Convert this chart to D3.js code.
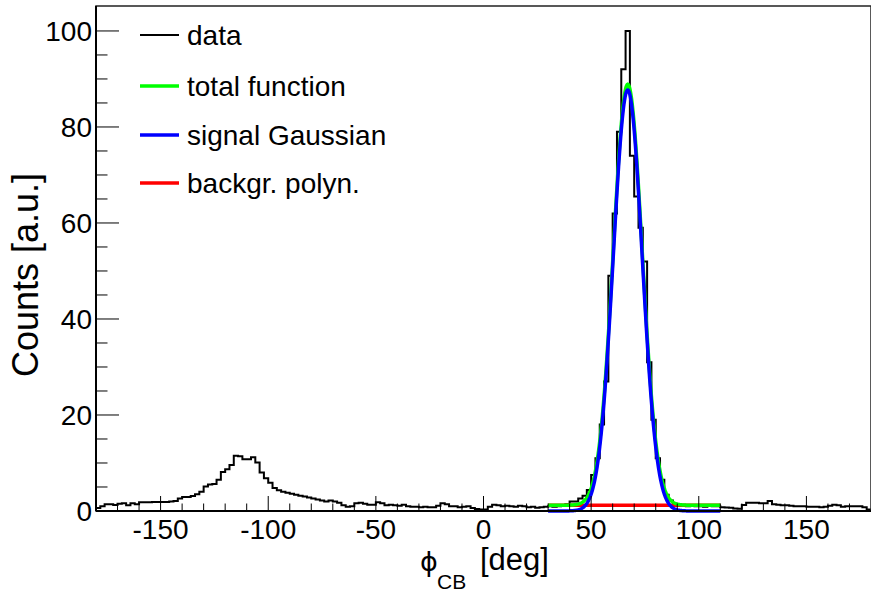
<!DOCTYPE html>
<html>
<head>
<meta charset="utf-8">
<script src="https://cdn.jsdelivr.net/npm/d3@7"></script>
<style>
  body { margin: 0; background: #fff; }
  text { font-family: "Liberation Sans", Arial, sans-serif; fill: #000; }
</style>
</head>
<body>
<svg id="fig" width="871" height="594"></svg>
<script>
// histogram: 180 bins of 2 deg from -180 to 180
var xLow = -180, xHigh = 180, binWidth = 2;
var counts = [
  0.6, 1.0, 1.4, 1.4, 1.25, 1.5, 1.6, 1.2, 1.6, 1.4,
  1.8, 1.8, 1.8, 1.9, 1.9, 1.9, 1.9, 2.0, 2.1, 2.6,
  2.9, 2.9, 3.1, 3.5, 4.0, 5.1, 5.5, 5.6, 6.5, 8.1,
  8.7, 9.6, 11.5, 11.4, 10.8, 10.8, 11.2, 10.1, 8.0, 6.8,
  5.9, 4.8, 4.3, 4.0, 3.8, 3.6, 3.4, 3.2, 3.0, 2.8,
  2.6, 2.4, 2.2, 2.0, 2.2, 2.0, 1.7, 1.2, 0.9, 1.0,
  1.6, 1.7, 1.5, 1.3, 1.3, 1.8, 1.6, 1.2, 1.3, 1.2,
  1.1, 1.3, 1.0, 0.9, 0.9, 0.8, 0.9, 0.8, 0.8, 1.1,
  1.6, 1.4, 1.0, 1.0, 0.8, 0.9, 1.0, 0.6, 0.4, 0.3,
  0.3, 0.9, 1.3, 1.2, 1.0, 1.1, 1.0, 0.9, 1.1, 1.0,
  0.8, 0.9, 0.7, 0.8, 0.9, 1.0, 0.9, 1.0, 1.1, 1.4,
  2.0, 2.0, 2.6, 3.2, 4.4, 7.5, 11, 18, 27, 49,
  62, 79, 92, 100, 74, 65.5, 59, 52, 31, 19,
  11, 6.5, 3.4, 2.2, 1.5, 1.2, 1.1, 1.0, 1.1, 1.0,
  1.0, 0.9, 1.1, 1.0, 1.0, 0.8, 0.75, 0.7, 0.5, 0.45,
  1.25, 1.7, 1.7, 1.7, 1.6, 1.6, 2.1, 1.4, 1.3, 1.2,
  1.2, 1.1, 1.0, 1.0, 1.0, 0.9, 0.9, 0.9, 0.8, 0.9,
  1.1, 1.3, 1.2, 0.9, 1.0, 1.0, 1.0, 1.0, 0.8, 0.3
];

// fit results
var fitRange = [30, 110];
var gausPar = [87.7, 67.0, 6.7];   // amplitude, mean, sigma
var polPar = [1.2];                // background polynomial

var xTicks = [-150, -100, -50, 0, 50, 100, 150];
var yTicks = [0, 20, 40, 60, 80, 100];
var yMax = 105.2;

var legendLabels = ["data", "total function", "signal Gaussian", "backgr. polyn."];
var legendColors = ["#000000", "#00ff00", "#0000ff", "#ff0000"];
var legendWidths = [2, 3.5, 3.5, 3.5];

function makeSVG() {
    var svg = d3.select("#fig");
    var left = 96, right = 871, top = 6, bottom = 511;

    var scX = d3.scaleLinear().domain([xLow, xHigh]).range([left, right]);
    var scY = d3.scaleLinear().domain([0, yMax]).range([bottom, top]);

    function gaus(x) { return gausPar[0] * Math.exp(-0.5 * Math.pow((x - gausPar[1]) / gausPar[2], 2)); }
    function pol(x) { var s = 0; polPar.forEach(function(p, i) { s += p * Math.pow(x, i); }); return s; }

    // histogram outline
    var pts = [[xLow, 0]];
    counts.forEach(function(c, i) {
        pts.push([xLow + i * binWidth, c]);
        pts.push([xLow + (i + 1) * binWidth, c]);
    });
    pts.push([xHigh, 0]);

    var lineMkr = d3.line().x(d => scX(d[0])).y(d => scY(d[1]));

    svg.append("path")
       .attr("d", lineMkr(pts))
       .attr("fill", "none")
       .attr("stroke", "black")
       .attr("stroke-width", 2);

    // fit curves
    var xs = d3.range(fitRange[0], fitRange[1] + 0.001, 0.25);
    var curves = [
        [xs.map(x => [x, pol(x)]), "#ff0000"],
        [xs.map(x => [x, gaus(x) + pol(x)]), "#00ff00"],
        [xs.map(x => [x, gaus(x)]), "#0000ff"]
    ];
    curves.forEach(function(c) {
        svg.append("path")
           .attr("d", lineMkr(c[0]))
           .attr("fill", "none")
           .attr("stroke", c[1])
           .attr("stroke-width", 3.5);
    });

    // frame
    svg.append("rect")
       .attr("x", left).attr("y", top)
       .attr("width", right - left).attr("height", bottom - top)
       .attr("fill", "none").attr("stroke", "#222").attr("stroke-width", 1.5);

    // x axis ticks
    var xMinor = d3.range(-170, 171, 10);
    svg.append("g").selectAll("line").data(xMinor).enter().append("line")
       .attr("x1", d => scX(d)).attr("x2", d => scX(d))
       .attr("y1", bottom).attr("y2", d => xTicks.indexOf(d) >= 0 ? bottom - 15 : bottom - 7.5)
       .attr("stroke", "black").attr("stroke-width", 1);
    svg.append("g").selectAll("text").data(xTicks).enter().append("text")
       .attr("x", d => scX(d)).attr("y", 539)
       .attr("text-anchor", "middle").attr("font-size", "28px")
       .text(d => d);

    // y axis ticks
    var yMinor = d3.range(0, 105, 5);
    svg.append("g").selectAll("line").data(yMinor).enter().append("line")
       .attr("x1", left).attr("x2", d => d % 20 === 0 ? left + 23 : left + 11.5)
       .attr("y1", d => scY(d)).attr("y2", d => scY(d))
       .attr("stroke", "black").attr("stroke-width", 1);
    svg.append("g").selectAll("text").data(yTicks).enter().append("text")
       .attr("x", 92).attr("y", d => scY(d) + 10)
       .attr("text-anchor", "end").attr("font-size", "28px")
       .text(d => d);

    // axis lines
    svg.append("line").attr("x1", left).attr("x2", left).attr("y1", top).attr("y2", bottom)
       .attr("stroke", "black").attr("stroke-width", 2);
    svg.append("line").attr("x1", left).attr("x2", right).attr("y1", bottom).attr("y2", bottom)
       .attr("stroke", "black").attr("stroke-width", 2);

    // axis titles
    var xt = svg.append("text").attr("font-size", "31px");
    xt.append("tspan").attr("x", 420).attr("y", 571)
      .style("font-family", "'DejaVu Sans', sans-serif").attr("font-size", "27px").text("\u03d5");
    xt.append("tspan").attr("x", 437).attr("y", 589).attr("font-size", "21px").text("CB");
    xt.append("tspan").attr("x", 480).attr("y", 570).text("[deg]");

    svg.append("text")
       .attr("transform", "translate(38,275) rotate(-90)")
       .attr("text-anchor", "middle").attr("font-size", "36px")
       .text("Counts [a.u.]");

    // legend
    var legY = [35, 86, 135, 183];
    var leg = svg.append("g");
    leg.selectAll("line").data(legendLabels).enter().append("line")
       .attr("x1", 140).attr("x2", 179)
       .attr("y1", (d, i) => legY[i]).attr("y2", (d, i) => legY[i])
       .attr("stroke", (d, i) => legendColors[i])
       .attr("stroke-width", (d, i) => legendWidths[i]);
    leg.selectAll("text").data(legendLabels).enter().append("text")
       .attr("x", 187).attr("y", (d, i) => legY[i] + 10)
       .attr("font-size", "28px")
       .text(d => d);
}
makeSVG();
</script>
</body>
</html>
